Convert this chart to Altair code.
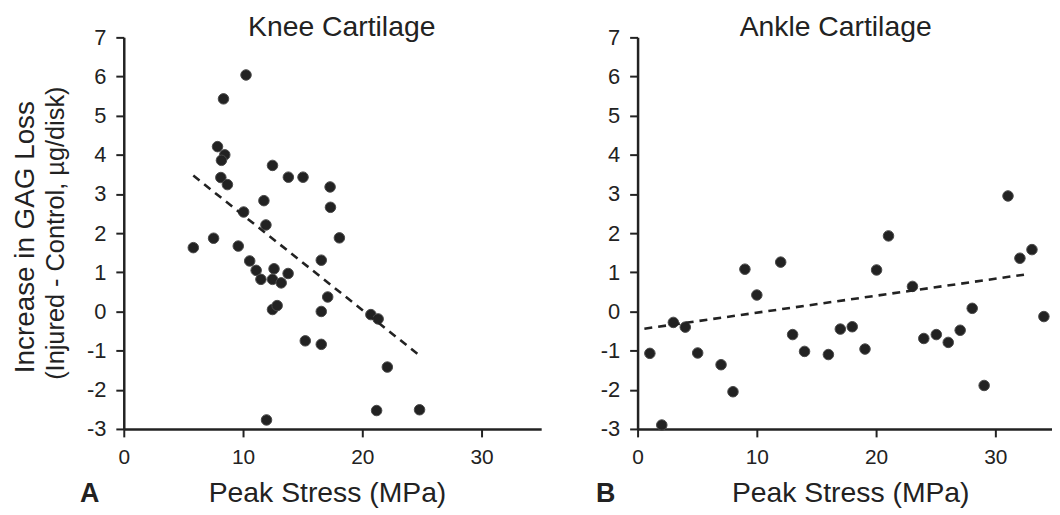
import altair as alt
import pandas as pd

# ---- data ----
knee_stress = [5.83, 7.53, 7.86, 8.36, 8.47, 8.19, 8.14, 8.69, 10.25, 10.05, 9.6, 10.56, 11.1, 11.5,
               11.75, 11.92, 12.47, 12.47, 12.6, 13.2, 13.78, 13.8, 12.47, 12.86, 15.03, 15.22,
               16.56, 16.56, 16.56, 17.1, 17.3, 17.33, 18.08, 20.72, 21.33, 22.1, 21.2, 24.8, 11.97]
knee_gag = [1.63, 1.87, 4.21, 5.43, 4.0, 3.86, 3.42, 3.24, 6.04, 2.54, 1.67, 1.29, 1.05, 0.82,
            2.83, 2.21, 3.73, 0.82, 1.09, 0.73, 0.97, 3.43, 0.05, 0.15, 3.43, -0.75,
            1.31, 0.0, -0.84, 0.37, 3.18, 2.66, 1.88, -0.08, -0.19, -1.42, -2.53, -2.51, -2.77]

ankle_stress = [1.03, 2.03, 3.0, 4.0, 5.04, 7.0, 8.0, 9.0, 10.0, 12.0, 13.0, 14.0, 16.0, 17.0, 18.0,
                19.07, 20.04, 21.04, 23.05, 24.0, 25.05, 26.05, 27.05, 28.06, 29.06, 31.06, 32.06,
                33.07, 34.07]
ankle_gag = [-1.07, -2.9, -0.28, -0.40, -1.06, -1.36, -2.05, 1.08, 0.42, 1.26, -0.59, -1.02, -1.10,
             -0.45, -0.39, -0.96, 1.06, 1.93, 0.64, -0.69, -0.59, -0.79, -0.48, 0.08, -1.89, 2.95,
             1.36, 1.58, -0.13]

knee_fit_stress = [5.83, 24.95]
knee_fit_gag = [3.47, -1.16]
ankle_fit_stress = [0.57, 32.4]
ankle_fit_gag = [-0.44, 0.94]

y_ticks = [-3, -2, -1, 0, 1, 2, 3, 4, 5, 6, 7]
x_ticks = [0, 10, 20, 30]

panel_titles = ["Knee Cartilage", "Ankle Cartilage"]
panel_letters = ["A", "B"]
x_title = "Peak Stress (MPa)"
y_title_lines = ["Increase in GAG Loss", "(Injured - Control, \u00b5g/disk)"]

FONT = "Liberation Sans"
INK = "#222222"
H = 394


def text_layer(txt, x, y, size, bold=False, angle=0):
    return alt.Chart(pd.DataFrame({"t": [txt]})).mark_text(
        font=FONT, fontSize=size, fontWeight="bold" if bold else "normal",
        angle=angle, align="center", baseline="alphabetic", color=INK
    ).encode(x=alt.value(x), y=alt.value(y), text="t:N")


def panel(xs, ys, fx, fy, x_max, width, title, title_x, letter, letter_x, xt_x, with_ytitle):
    pts = pd.DataFrame({"stress": xs, "gag": ys})
    fit = pd.DataFrame({"stress": fx, "gag": fy})
    xscale = alt.Scale(domain=[0, x_max], nice=False, zero=False)
    yscale = alt.Scale(domain=[-3, 7], nice=False, zero=False)

    def xaxis():
        return alt.Axis(values=x_ticks, title=None, labelExpr="datum.value + ''")

    def yaxis():
        return alt.Axis(values=y_ticks, title=None, labelExpr="datum.value + ''",
                        labelFontSize=22)

    points = alt.Chart(pts).mark_circle(
        size=112, color=INK, opacity=1, stroke="#4a4a4a", strokeWidth=1
    ).encode(
        x=alt.X("stress:Q", scale=xscale, axis=xaxis()),
        y=alt.Y("gag:Q", scale=yscale, axis=yaxis()),
    )
    line = alt.Chart(fit).mark_line(
        color=INK, strokeWidth=2.6, strokeDash=[8, 6]
    ).encode(
        x=alt.X("stress:Q", scale=xscale, axis=xaxis()),
        y=alt.Y("gag:Q", scale=yscale, axis=yaxis()),
    )
    layers = [points, line,
              text_layer(title, title_x, -1, 28.5),
              text_layer(x_title, xt_x, 468, 28.5),
              text_layer(letter, letter_x, 468, 27, bold=True)]
    if with_ytitle:
        layers.append(text_layer(y_title_lines[0], -90.7, 201, 28, angle=270))
        layers.append(text_layer(y_title_lines[1], -60.5, 197, 25.5, angle=270))
    return alt.layer(*layers).properties(width=width, height=H)


left = panel(knee_stress, knee_gag, knee_fit_stress, knee_fit_gag, 35, 420,
             panel_titles[0], 219.3, panel_letters[0], -34.3, 205, True)
right = panel(ankle_stress, ankle_gag, ankle_fit_stress, ankle_fit_gag, 34.75, 417,
              panel_titles[1], 199.3, panel_letters[1], -32, 214.5, False)

chart = alt.hconcat(left, right, spacing=97).properties(
    bounds="flush",
    padding={"left": 3.5, "top": 4, "right": 0, "bottom": -2},
    background="white",
).configure_view(stroke=None).configure_axis(
    grid=False,
    domainColor=INK, domainWidth=2.5,
    tickColor=INK, tickWidth=2, tickSize=8,
    labelFont=FONT, labelFontSize=21, labelColor=INK, labelPadding=10,
    labelOverlap=False, labelFlush=False,
)

chart.save("out.html", embed_options={"renderer": "svg", "actions": False})
